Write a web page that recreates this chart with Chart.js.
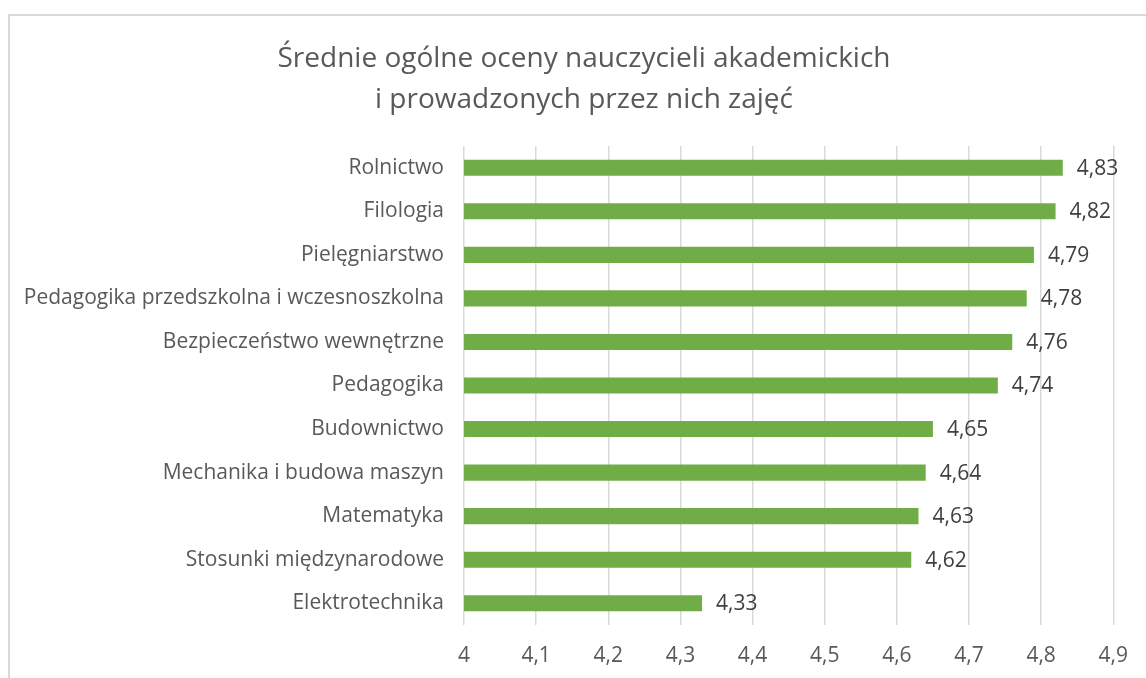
<!DOCTYPE html>
<html>
<head>
<meta charset="utf-8">
<script src="https://cdn.jsdelivr.net/npm/chart.js@4"></script>
<style>
  html, body { margin: 0; padding: 0; background: #fff; overflow: hidden; }
  #frame { position: absolute; left: 8px; top: 14px; width: 1300px; height: 900px; border: 2px solid #d9d9d9; box-sizing: border-box; }
  #wrap { position: absolute; left: 0; top: 0; width: 1146px; height: 678px; }
</style>
</head>
<body>
<div id="frame"></div>
<div id="wrap"><canvas id="c" width="1146" height="678"></canvas></div>
<script>
const categories = [
  'Rolnictwo',
  'Filologia',
  'Pielęgniarstwo',
  'Pedagogika przedszkolna i wczesnoszkolna',
  'Bezpieczeństwo wewnętrzne',
  'Pedagogika',
  'Budownictwo',
  'Mechanika i budowa maszyn',
  'Matematyka',
  'Stosunki międzynarodowe',
  'Elektrotechnika'
];
const values = [4.83, 4.82, 4.79, 4.78, 4.76, 4.74, 4.65, 4.64, 4.63, 4.62, 4.33];
const tickLabels = ['4', '4,1', '4,2', '4,3', '4,4', '4,5', '4,6', '4,7', '4,8', '4,9'];
const titleLines = ['Średnie ogólne oceny nauczycieli akademickich', 'i prowadzonych przez nich zajęć'];

const FONT = '"Open Sans", sans-serif';

const titlePlugin = {
  id: 'titleText',
  afterDraw(chart) {
    const ctx = chart.ctx;
    ctx.save();
    ctx.font = '28px ' + FONT;
    ctx.fillStyle = '#595959';
    ctx.textAlign = 'center';
    ctx.textBaseline = 'alphabetic';
    ctx.fillText(titleLines[0], 584, 67);
    ctx.fillText(titleLines[1], 584, 108);
    ctx.restore();
  }
};

const valueLabels = {
  id: 'valueLabels',
  afterDatasetsDraw(chart) {
    const ctx = chart.ctx;
    const meta = chart.getDatasetMeta(0);
    ctx.save();
    ctx.font = '21px ' + FONT;
    ctx.fillStyle = '#404040';
    ctx.textBaseline = 'middle';
    ctx.textAlign = 'left';
    meta.data.forEach((bar, i) => {
      const txt = values[i].toFixed(2).replace('.', ',');
      ctx.fillText(txt, bar.x + 14, bar.y + 1);
    });
    ctx.restore();
  }
};

new Chart(document.getElementById('c'), {
  type: 'bar',
  data: {
    labels: categories,
    datasets: [{
      data: values,
      backgroundColor: '#70AD47',
      borderWidth: 0,
      barPercentage: 0.37,
      categoryPercentage: 1.0
    }]
  },
  plugins: [valueLabels, titlePlugin],
  options: {
    indexAxis: 'y',
    responsive: false,
    animation: false,
    devicePixelRatio: 1,
    layout: { padding: { left: 0, right: 30, top: 146, bottom: 0 } },
    plugins: {
      legend: { display: false },
      tooltip: { enabled: false },
      title: { display: false }
    },
    scales: {
      x: {
        type: 'linear',
        min: 4,
        max: 4.9,
        afterFit(scale) { scale.height = 53; },
        ticks: {
          stepSize: 0.1,
          color: '#595959',
          font: { family: FONT, size: 21 },
          padding: 18,
          callback: (v, i) => tickLabels[i]
        },
        grid: { color: '#d9d9d9', lineWidth: 1.5, drawTicks: false },
        border: { display: false }
      },
      y: {
        afterFit(scale) { scale.width = 464; },
        ticks: {
          color: '#595959',
          font: { family: FONT, size: 21 },
          padding: 20
        },
        grid: { display: false, drawTicks: false },
        border: { display: false }
      }
    }
  }
});
</script>
</body>
</html>
